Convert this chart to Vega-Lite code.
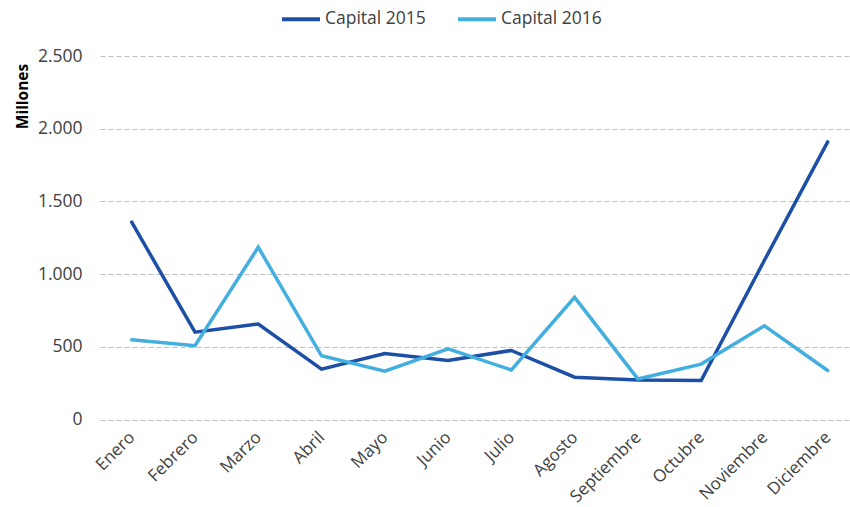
{
  "$schema": "https://vega.github.io/schema/vega-lite/v6.json",
  "width": 750,
  "height": 363.5,
  "autosize": {"type": "none"},
  "padding": {"left": 100, "top": 56, "right": 0, "bottom": 87.5},
  "background": "white",
  "config": {
    "view": {"stroke": null},
    "font": "Open Sans"
  },
  "data": {
    "values": [
      {"mes": "Enero", "serie": "Capital 2015", "valor": 1357},
      {"mes": "Febrero", "serie": "Capital 2015", "valor": 601},
      {"mes": "Marzo", "serie": "Capital 2015", "valor": 657},
      {"mes": "Abril", "serie": "Capital 2015", "valor": 346},
      {"mes": "Mayo", "serie": "Capital 2015", "valor": 454},
      {"mes": "Junio", "serie": "Capital 2015", "valor": 406},
      {"mes": "Julio", "serie": "Capital 2015", "valor": 475},
      {"mes": "Agosto", "serie": "Capital 2015", "valor": 291},
      {"mes": "Septiembre", "serie": "Capital 2015", "valor": 272},
      {"mes": "Octubre", "serie": "Capital 2015", "valor": 268},
      {"mes": "Noviembre", "serie": "Capital 2015", "valor": 1095},
      {"mes": "Diciembre", "serie": "Capital 2015", "valor": 1909},
      {"mes": "Enero", "serie": "Capital 2016", "valor": 548},
      {"mes": "Febrero", "serie": "Capital 2016", "valor": 507},
      {"mes": "Marzo", "serie": "Capital 2016", "valor": 1185},
      {"mes": "Abril", "serie": "Capital 2016", "valor": 438},
      {"mes": "Mayo", "serie": "Capital 2016", "valor": 332},
      {"mes": "Junio", "serie": "Capital 2016", "valor": 486},
      {"mes": "Julio", "serie": "Capital 2016", "valor": 341},
      {"mes": "Agosto", "serie": "Capital 2016", "valor": 840},
      {"mes": "Septiembre", "serie": "Capital 2016", "valor": 279},
      {"mes": "Octubre", "serie": "Capital 2016", "valor": 381},
      {"mes": "Noviembre", "serie": "Capital 2016", "valor": 645},
      {"mes": "Diciembre", "serie": "Capital 2016", "valor": 337}
    ]
  },
  "mark": {"type": "line", "strokeWidth": 3.5, "strokeJoin": "miter", "strokeCap": "round"},
  "encoding": {
    "x": {
      "field": "mes",
      "type": "nominal",
      "sort": ["Enero", "Febrero", "Marzo", "Abril", "Mayo", "Junio", "Julio", "Agosto", "Septiembre", "Octubre", "Noviembre", "Diciembre"],
      "scale": {"type": "point", "padding": 0.427, "align": 0.587},
      "axis": {
        "title": null,
        "labelAngle": -45,
        "labelAlign": "right",
        "labelBaseline": "middle",
        "labelPadding": 15,
        "labelFontSize": 17,
        "labelColor": "#404040",
        "ticks": false,
        "domain": false,
        "grid": false
      }
    },
    "y": {
      "field": "valor",
      "type": "quantitative",
      "scale": {"domain": [0, 2500], "nice": false},
      "axis": {
        "values": [0, 500, 1000, 1500, 2000, 2500],
        "labelExpr": "replace(format(datum.value, ','), ',', '.')",
        "labelFontSize": 17.5,
        "labelColor": "#404040",
        "labelPadding": 18,
        "ticks": false,
        "domain": false,
        "grid": true,
        "gridColor": "#bdbdbd",
        "gridDash": [5, 3],
        "gridWidth": 1,
        "title": "Millones",
        "titleFontSize": 15.5,
        "titleFontWeight": "bold",
        "titleColor": "#000000",
        "titleAngle": -90,
        "titleAlign": "center",
        "titleBaseline": "alphabetic",
        "titleX": -73,
        "titleY": 40
      }
    },
    "color": {
      "field": "serie",
      "type": "nominal",
      "scale": {"domain": ["Capital 2015", "Capital 2016"], "range": ["#1c4fa5", "#43aee0"]},
      "legend": {
        "title": null,
        "orient": "none",
        "direction": "horizontal",
        "legendX": 180,
        "legendY": -58,
        "symbolType": "stroke",
        "symbolSize": 1444,
        "symbolStrokeWidth": 4,
        "labelFontSize": 17.5,
        "labelColor": "#404040",
        "labelOffset": 3,
        "columnPadding": 24
      }
    }
  }
}
